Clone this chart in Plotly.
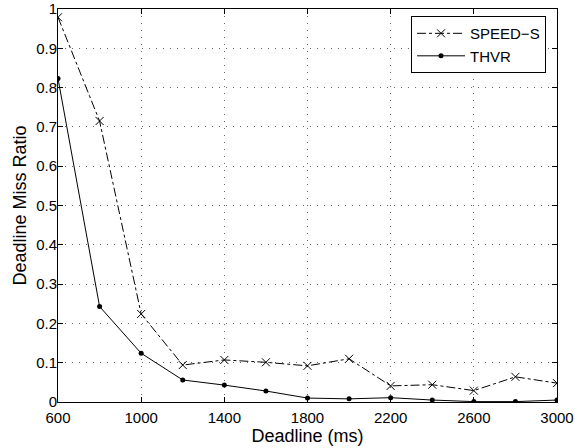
import plotly.graph_objects as go

deadlines = [600, 800, 1000, 1200, 1400, 1600, 1800, 2000, 2200, 2400, 2600, 2800, 3000]
speed_s = [0.979, 0.715, 0.224, 0.094, 0.107, 0.101, 0.092, 0.110, 0.041, 0.044, 0.029, 0.064, 0.048]
thvr = [0.823, 0.243, 0.124, 0.056, 0.043, 0.028, 0.010, 0.008, 0.011, 0.005, 0.001, 0.001, 0.005]
x_ticks = [600, 1000, 1400, 1800, 2200, 2600, 3000]
y_ticks = [0, 0.1, 0.2, 0.3, 0.4, 0.5, 0.6, 0.7, 0.8, 0.9, 1]
y_labels = ["0", "0.1", "0.2", "0.3", "0.4", "0.5", "0.6", "0.7", "0.8", "0.9", "1"]

fig = go.Figure()
fig.add_trace(go.Scatter(
    x=deadlines, y=speed_s, name="SPEED\u2212S", mode="lines+markers",
    line=dict(color="black", width=1, dash="dashdot"),
    marker=dict(symbol="x-thin", size=8, line=dict(color="black", width=1)),
))
fig.add_trace(go.Scatter(
    x=deadlines, y=thvr, name="THVR", mode="lines+markers",
    line=dict(color="black", width=1),
    marker=dict(symbol="circle", size=5, color="black"),
))

axis_common = dict(
    showline=True, linecolor="black", linewidth=1, mirror="ticks",
    ticks="inside", ticklen=5, tickcolor="black",
    showgrid=True, gridcolor="#666", griddash="1px,6px", gridwidth=1,
    zeroline=False, tickfont=dict(size=15, color="black"),
)

fig.update_xaxes(range=[600, 3000], tickvals=x_ticks, automargin=False, ticklabelstandoff=2,
                 title=dict(text="Deadline (ms)", font=dict(size=18, color="black"), standoff=0),
                 **axis_common)
fig.update_yaxes(range=[0, 1], tickvals=y_ticks, ticktext=y_labels, automargin=False,
                 ticklabelstandoff=-3,
                 title=dict(text="Deadline Miss Ratio", font=dict(size=18, color="black"), standoff=4),
                 **axis_common)

fig.update_layout(
    width=575, height=448,
    margin=dict(l=58, r=18, t=9, b=46),
    paper_bgcolor="white", plot_bgcolor="white",
    font=dict(family="Liberation Sans, Arial, sans-serif", color="black"),
    legend=dict(x=0.978, y=0.982, xanchor="right", yanchor="top",
                bgcolor="white", bordercolor="black", borderwidth=1,
                font=dict(size=15), tracegroupgap=0, itemwidth=48),
)

# drop the default 8px page margin so the figure sits at the window corner
fig.write_html("out.html", config={"displayModeBar": False},
               post_script="document.body.style.margin='0';")
